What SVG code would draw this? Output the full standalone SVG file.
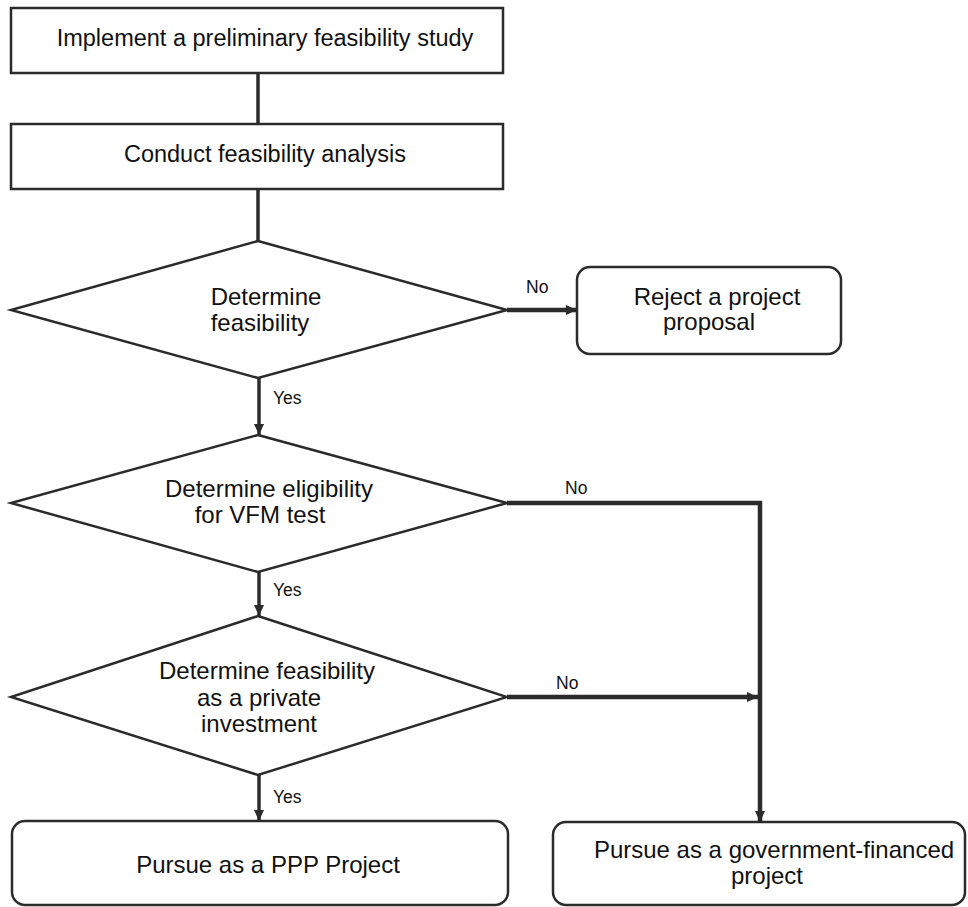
<svg xmlns="http://www.w3.org/2000/svg" width="968" height="907" viewBox="0 0 968 907">
<style>
.box{fill:#fff;stroke:#2b2b2b;stroke-width:2.5}
.t{font-family:"Liberation Sans",Arial,sans-serif;font-size:24px;fill:#111;text-anchor:middle}
.t2{font-family:"Liberation Sans",Arial,sans-serif;font-size:23.5px;fill:#111;text-anchor:middle}
.lbl{font-family:"Liberation Sans",Arial,sans-serif;font-size:17.5px;fill:#111}
.c{fill:none;stroke:#2b2b2b;stroke-width:3.5}
.ct{fill:none;stroke:#2b2b2b;stroke-width:4.5}
</style>
<defs>
<marker id="ah" markerUnits="userSpaceOnUse" markerWidth="12" markerHeight="12" viewBox="0 0 12 12" refX="11" refY="6" orient="auto">
<path d="M0,1 L11,6 L0,11 Z" fill="#2b2b2b"/>
</marker>
</defs>
<g id="connectors">
<line class="c" x1="258" y1="73" x2="258" y2="124"/>
<line class="c" x1="258" y1="189" x2="258" y2="241"/>
<line class="ct" x1="507" y1="310" x2="577" y2="310" marker-end="url(#ah)"/>
<line class="c" x1="259" y1="378" x2="259" y2="435" marker-end="url(#ah)"/>
<polyline class="ct" points="507,503 760,503 760,822" marker-end="url(#ah)"/>
<line class="c" x1="259" y1="572" x2="259" y2="616" marker-end="url(#ah)"/>
<line class="ct" x1="507" y1="697" x2="758" y2="697" marker-end="url(#ah)"/>
<line class="c" x1="259" y1="775" x2="259" y2="821" marker-end="url(#ah)"/>
<text class="lbl" x="526" y="293">No</text>
<text class="lbl" x="273" y="404">Yes</text>
<text class="lbl" x="565" y="494">No</text>
<text class="lbl" x="273" y="596">Yes</text>
<text class="lbl" x="556" y="689">No</text>
<text class="lbl" x="273" y="803">Yes</text>
</g>
<g id="prelim">
<rect class="box" x="11" y="8" width="492" height="65"/>
<text class="t2" x="265" y="46">Implement a preliminary feasibility study</text>
</g>
<g id="analysis">
<rect class="box" x="11" y="124" width="492" height="65"/>
<text class="t2" x="265" y="162">Conduct feasibility analysis</text>
</g>
<g id="d1">
<polygon class="box" points="258,241 507,310 258,378 11,310"/>
<text class="t" x="266" y="305">Determine</text>
<text class="t" x="260" y="331">feasibility</text>
</g>
<g id="reject">
<rect class="box" x="577" y="267" width="264" height="87" rx="13"/>
<text class="t" x="717" y="305">Reject a project</text>
<text class="t" x="709" y="330">proposal</text>
</g>
<g id="d2">
<polygon class="box" points="258,435 507,503 258,572 11,503"/>
<text class="t" x="269" y="497">Determine eligibility</text>
<text class="t" x="260" y="523">for VFM test</text>
</g>
<g id="d3">
<polygon class="box" points="258,616 507,697 258,775 11,697"/>
<text class="t" x="267" y="679">Determine feasibility</text>
<text class="t" x="259" y="706">as a private</text>
<text class="t" x="259" y="732">investment</text>
</g>
<g id="ppp">
<rect class="box" x="12" y="821" width="496" height="84" rx="13"/>
<text class="t" x="268" y="873">Pursue as a PPP Project</text>
</g>
<g id="gov">
<rect class="box" x="553" y="822" width="412" height="83" rx="13"/>
<text class="t" x="774" y="858">Pursue as a government-financed</text>
<text class="t" x="767" y="884">project</text>
</g>
</svg>
